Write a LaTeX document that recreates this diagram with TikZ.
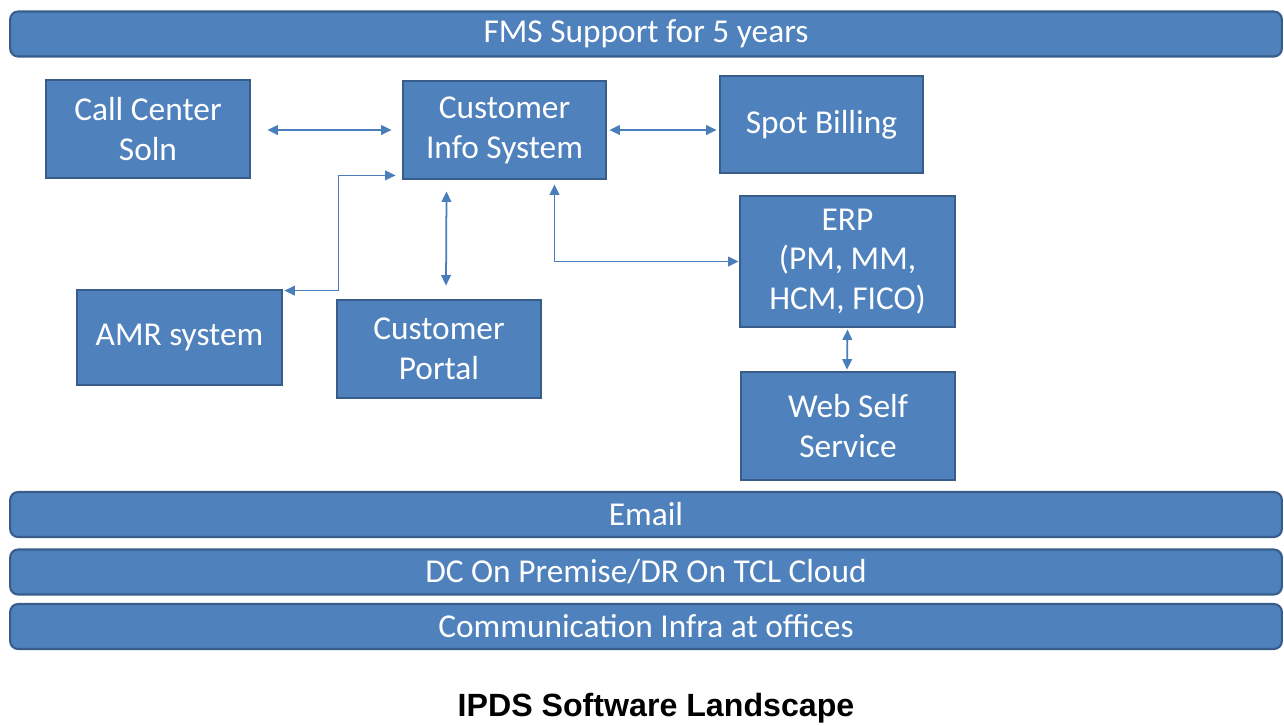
\documentclass[tikz,border=0pt]{standalone}
\usepackage{fontspec}
\setmainfont{Carlito}
\newfontfamily\titlefont{Liberation Sans}
\usetikzlibrary{calc, arrows.meta, positioning}
\definecolor{boxBlue}{HTML}{4F81BD}
\definecolor{edgeBlue}{HTML}{385D8A}
\definecolor{lineBlue}{HTML}{4A7EBB}

\tikzset{
    sysbox/.style={draw=edgeBlue, fill=boxBlue, line width=1.6pt, text=white, align=center,
        font=\fontsize{19}{22.7}\selectfont, inner sep=2pt},
    layerbar/.style={draw=edgeBlue, fill=boxBlue, line width=1.2pt, rounded corners=0.16cm,
        text=white, minimum width=25.44cm, minimum height=0.9cm, font=\fontsize{19}{22}\selectfont},
    link/.style={lineBlue, line width=1pt, {Triangle[length=6pt, width=5.5pt]}-{Triangle[length=6pt, width=5.5pt]}}
}

\begin{document}
\begin{tikzpicture}[x=0.02cm, y=-0.02cm]
    \useasboundingbox (0,0) rectangle (1284,725);

    % layers across the whole width
    \node[layerbar] (fms) at (646,34) {FMS Support for 5 years};
    \node[layerbar] (mail) at (646,514.5) {Email};
    \node[layerbar] (dc) at (646,572) {DC On Premise/DR On TCL Cloud};
    \node[layerbar] (comm) at (646,626.5) {Communication Infra at offices};

    % systems
    \node[sysbox, minimum width=4.08cm, minimum height=1.96cm] (call) at (148,129) {Call Center\\Soln};
    \node[sysbox, minimum width=4.06cm, minimum height=1.96cm] (cis) at (504.5,130) {Customer\\Info System};
    \node[sysbox, minimum width=4.06cm, minimum height=1.94cm] (spot) at (821.5,124.5) {Spot Billing};
    \node[sysbox, minimum width=4.3cm, minimum height=2.62cm] (erp) at (847.5,261.5) {ERP\\(PM, MM,\\HCM, FICO)};
    \node[sysbox, minimum width=4.28cm, minimum height=2.16cm] (web) at (848,426) {Web Self\\Service};
    \node[sysbox, minimum width=4.1cm, minimum height=1.9cm] (amr) at (179.5,337.5) {AMR system};
    \node[sysbox, minimum width=4.08cm, minimum height=1.96cm] (portal) at (439,349) {Customer\\Portal};

    % links
    \draw[link, shorten <=16*0.02cm, shorten >=10*0.02cm] (call.east |- cis.west) -- (cis.west);
    \draw[link, shorten <=2*0.02cm, shorten >=2*0.02cm] (cis.east) -- (spot.west |- cis.east);
    \draw[link] ($(cis.south)+(-58,11)$) -- ($(portal.north)+(7,-13)$);
    \draw[link] ($(amr.north east)+(1,2)$) -- ++(54,0) |- ($(cis.south west)+(-6,-5)$);
    \draw[link] ($(cis.south)+(50,4)$) |- (erp.west);
    \draw[link] ($(erp.south)+(0,1)$) -- ($(web.north)+(-1,-1)$);

    \node[font=\titlefont\bfseries\fontsize{18.3}{22}\selectfont] (title) at (656,708) {IPDS Software Landscape};
\end{tikzpicture}
\end{document}
